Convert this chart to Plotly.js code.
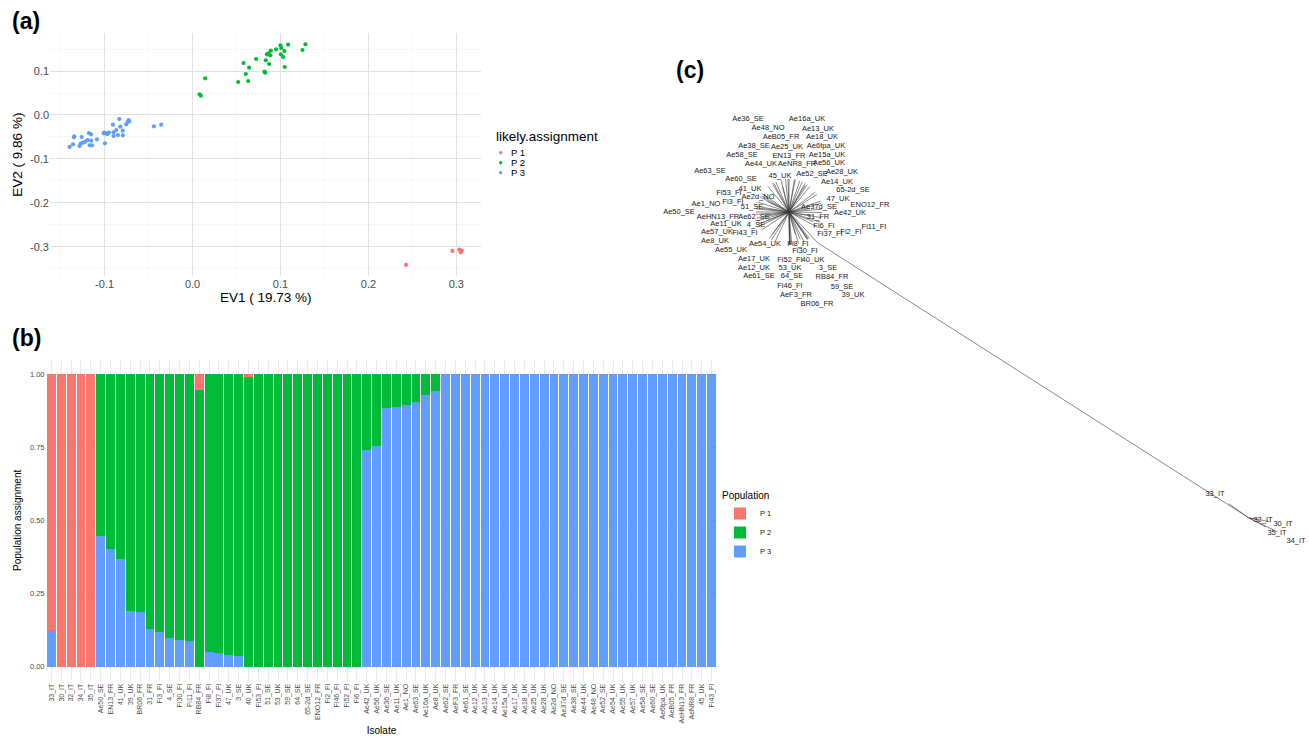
<!DOCTYPE html>
<html>
<head>
<meta charset="utf-8">
<script src="https://cdn.plot.ly/plotly-3.0.1.min.js"></script>
<style>html,body{margin:0;padding:0;background:#fff}#chart{width:1309px;height:737px}</style>
</head>
<body>
<div id="chart"></div>
<script>
// ---------------- Panel (a): PCA scores ----------------
const p1EV1 = [0.2428, 0.2955, 0.3034, 0.3061, 0.3050];
const p1EV2 = [-0.3409, -0.3091, -0.3061, -0.3083, -0.3121];
const p2EV1 = [0.0080, 0.0095, 0.0144, 0.0519, 0.0580, 0.0606, 0.0633, 0.0644, 0.0723, 0.0818, 0.0826, 0.0833, 0.0845, 0.0864, 0.0871, 0.0883, 0.0890, 0.0951, 0.1000, 0.1004, 0.1008, 0.1030, 0.1045, 0.1049, 0.1087, 0.1250, 0.1284];
const p2EV2 = [0.0470, 0.0439, 0.0833, 0.0750, 0.1182, 0.0932, 0.0773, 0.1076, 0.1273, 0.0985, 0.0962, 0.1242, 0.1379, 0.1402, 0.1159, 0.1356, 0.1462, 0.1492, 0.1583, 0.1379, 0.1523, 0.1318, 0.1455, 0.1091, 0.1598, 0.1477, 0.1606];
const p3EV1 = [-0.1398, -0.1360, -0.1348, -0.1345, -0.1284, -0.1273, -0.1261, -0.1246, -0.1220, -0.1193, -0.1178, -0.1170, -0.1155, -0.1152, -0.1144, -0.1087, -0.1011, -0.1004, -0.0996, -0.0981, -0.0966, -0.0951, -0.0905, -0.0898, -0.0898, -0.0867, -0.0848, -0.0833, -0.0822, -0.0795, -0.0792, -0.0754, -0.0739, -0.0727, -0.0720, -0.0439, -0.0356];
const p3EV2 = [-0.0727, -0.0667, -0.0508, -0.0485, -0.0705, -0.0652, -0.0500, -0.0629, -0.0606, -0.0568, -0.0409, -0.0689, -0.0439, -0.0583, -0.0689, -0.0553, -0.0417, -0.0402, -0.0644, -0.0424, -0.0432, -0.0402, -0.0220, -0.0394, -0.0477, -0.0341, -0.0455, -0.0091, -0.0265, -0.0356, -0.0462, -0.0212, -0.0159, -0.0114, -0.0144, -0.0258, -0.0220];
const popNames = ['P 1', 'P 2', 'P 3'];
const popColors = ['#F8766D', '#00BA38', '#619CFF'];
const aXTicks = [-0.1, 0.0, 0.1, 0.2, 0.3];
const aXTickText = ['-0.1', '0.0', '0.1', '0.2', '0.3'];
const aYTicks = [-0.3, -0.2, -0.1, 0.0, 0.1];
const aYTickText = ['-0.3', '-0.2', '-0.1', '0.0', '0.1'];

// ---------------- Panel (b): population assignment ----------------
const isolates = ['33_IT','30_IT','32_IT','34_IT','35_IT','Ae50_SE','EN13_FR','41_UK','39_UK','BR06_FR','31_FR','Fi3_FI','4_SE','Fi30_FI','Fi11_FI','RB84_FR','Fi8_FI','Fi37_FI','47_UK','3_SE','40_UK','Fi53_FI','51_SE','53_UK','59_SE','64_SE','65-2d_SE','ENO12_FR','Fi2_FI','Fi46_FI','Fi52_FI','Fi6_FI','Ae42_UK','Ae56_UK','Ae36_SE','Ae11_UK','Ae1_NO','Ae63_SE','Ae16a_UK','Ae8_UK','Ae62_SE','AeF3_FR','Ae61_SE','Ae12_UK','Ae13_UK','Ae14_UK','Ae15a_UK','Ae17_UK','Ae18_UK','Ae25_UK','Ae28_UK','Ae2d_NO','Ae37d_SE','Ae38_SE','Ae44_UK','Ae48_NO','Ae52_SE','Ae54_UK','Ae55_UK','Ae57_UK','Ae58_SE','Ae60_SE','Ae6tpa_UK','AeB05_FR','AeHN13_FR','AeNR8_FR','45_UK','Fi43_FI'];
const assignP1 = [0.878,1,1,1,1, 0,0,0,0,0,0,0,0,0,0, 0.055,0,0,0,0, 0.011,0,0,0,0,0,0,0,0,0,0,0, 0,0,0,0,0,0,0,0, 0,0,0,0,0,0,0,0,0,0,0,0,0,0,0,0,0,0,0,0,0,0,0,0,0,0,0,0];
const assignP2 = [0,0,0,0,0, 0.554,0.597,0.632,0.809,0.813,0.872,0.882,0.901,0.909,0.911, 0.945,0.950,0.952,0.959,0.965, 0.989,1,1,1,1,1,1,1,1,1,1,1, 0.260,0.246,0.117,0.112,0.106,0.097,0.070,0.058, 0,0,0,0,0,0,0,0,0,0,0,0,0,0,0,0,0,0,0,0,0,0,0,0,0,0,0,0];
const assignP3 = [0.122,0,0,0,0, 0.446,0.403,0.368,0.191,0.187,0.128,0.118,0.099,0.091,0.089, 0,0.050,0.048,0.041,0.035, 0,0,0,0,0,0,0,0,0,0,0,0, 0.740,0.754,0.883,0.888,0.894,0.903,0.930,0.942, 1,1,1,1,1,1,1,1,1,1,1,1,1,1,1,1,1,1,1,1,1,1,1,1,1,1,1,1];
const bYTicks = [0, 0.25, 0.5, 0.75, 1];
const bYTickText = ['0.00', '0.25', '0.50', '0.75', '1.00'];

// ---------------- Panel (c): unrooted tree (layout units) ----------------
const treeTips = ['Ae36_SE','Ae16a_UK','Ae48_NO','Ae13_UK','AeB05_FR','Ae18_UK','Ae38_SE','Ae25_UK','Ae6tpa_UK','Ae58_SE','EN13_FR','Ae15a_UK','Ae44_UK','AeNR8_FR','Ae56_UK','Ae63_SE','Ae60_SE','45_UK','Ae52_SE','Ae28_UK','Ae14_UK','41_UK','Fi53_FI','Ae2d_NO','65-2d_SE','47_UK','Ae1_NO','Fi3_FI','51_SE','Ae50_SE','Ae37d_SE','ENO12_FR','Ae42_UK','AeHN13_FR','Ae62_SE','31_FR','Ae11_UK','4_SE','Fi6_FI','Fi11_FI','Fi37_FI','Fi2_FI','Ae57_UK','Fi43_FI','Ae8_UK','Ae54_UK','Fi8_FI','Ae55_UK','Fi30_FI','Ae17_UK','Fi52_FI','40_UK','Ae12_UK','53_UK','3_SE','Ae61_SE','64_SE','RB84_FR','Fi46_FI','59_SE','AeF3_FR','39_UK','BR06_FR','33_IT','32_IT','30_IT','35_IT','34_IT'];
const tipX = [748,807,768,818,781,822,754,787,826,742,789,827,761,797,829,710,741,780,812,842,837,750,729,758,853,838,706,733,752,679,819,870,850,718,754,818,726,756,824,874,830,851,717,745,715,765,798,731,805,754,790,813,754,790,828,759,792,832,790,842,796,853,817,1215,1263,1283,1277,1296];
const tipY = [119,119,128,129,137,137,146,147,146,155,156,155,164,164,163,171,179,176,174,172,182,189,193,197,190,199,204,202,207,212,207,205,213,217,217,217,224,225,226,227,234,232,232,233,241,244,244,250,251,259,260,260,268,268,268,276,276,277,286,287,295,295,304,494,520,524,533,541];
const nodeNames = ['root', 'itStem', 'itNode'];
const nodeX = [789, 818, 1249];
const nodeY = [212, 243, 518];

const font = 'Liberation Sans, Arial, Helvetica, sans-serif';
const W = 1309, H = 737;
const px = v => v / W;
const py = v => 1 - v / H;

const traces = [];
// (a) scatter points
[[p1EV1, p1EV2], [p2EV1, p2EV2], [p3EV1, p3EV2]].forEach((xy, i) => {
  traces.push({
    type: 'scatter', mode: 'markers', x: xy[0], y: xy[1],
    xaxis: 'x', yaxis: 'y', name: popNames[i], showlegend: false,
    marker: {color: popColors[i], size: 4.2}
  });
});
// (b) stacked bars (bottom P3, then P2, top P1)
[[assignP3, 2], [assignP2, 1], [assignP1, 0]].forEach(([vals, i]) => {
  traces.push({
    type: 'bar', x: isolates, y: vals, xaxis: 'x2', yaxis: 'y2',
    name: popNames[i], marker: {color: popColors[i], line: {width: 0}},
    showlegend: true
  });
});
// (c) tree edges
const ex = [], ey = [];
const r = 0, st = 1, itn = 2;
ex.push(nodeX[r], nodeX[st], nodeX[itn], null);
ey.push(nodeY[r], nodeY[st], nodeY[itn], null);
treeTips.forEach((n, i) => {
  const isIT = n.endsWith('_IT');
  const p = isIT ? itn : r;
  const dx = tipX[i] - nodeX[p], dy = tipY[i] - nodeY[p];
  const d = Math.hypot(dx, dy);
  const f = isIT ? 0.6 : Math.min(0.7, 33 / d);
  ex.push(nodeX[p], nodeX[p] + dx * f, null);
  ey.push(nodeY[p], nodeY[p] + dy * f, null);
});
traces.push({type: 'scatter', mode: 'lines', x: ex, y: ey, xaxis: 'x3', yaxis: 'y3',
  line: {color: '#3a3a3a', width: 0.6}, showlegend: false, hoverinfo: 'skip'});
traces.push({type: 'scatter', mode: 'text', x: tipX, y: tipY, text: treeTips, xaxis: 'x3', yaxis: 'y3',
  textposition: 'middle center', textfont: {family: font, size: 7.5, color: '#222'}, showlegend: false});

const gridMajor = '#e2e2e2', gridMinor = '#f1f1f1', tickCol = '#4d4d4d';
const layout = {
  width: W, height: H, margin: {l: 0, r: 0, t: 0, b: 0},
  paper_bgcolor: '#fff', plot_bgcolor: 'rgba(0,0,0,0)',
  font: {family: font, color: '#000'},
  barmode: 'stack', bargap: 0.1,
  showlegend: true,
  xaxis: {
    domain: [px(50), px(481.3)], range: [-0.1621, 0.3284], anchor: 'y',
    tickmode: 'array', tickvals: aXTicks, ticktext: aXTickText,
    tickfont: {size: 11, color: tickCol, family: font}, ticks: '', zeroline: false,
    showgrid: true, gridcolor: gridMajor, gridwidth: 1, showline: false, automargin: false,
    minor: {tickmode: 'array', tickvals: [-0.15, -0.05, 0.05, 0.15, 0.25], showgrid: true, gridcolor: gridMinor, gridwidth: 0.6},
    title: {text: 'EV1 ( 19.73 %)', font: {size: 13.5, family: font, color: '#000'}, standoff: 3}
  },
  yaxis: {
    domain: [py(276), py(33.3)], range: [-0.366, 0.1857], anchor: 'x',
    tickmode: 'array', tickvals: aYTicks, ticktext: aYTickText,
    tickfont: {size: 11, color: tickCol, family: font}, ticks: '', zeroline: false,
    showgrid: true, gridcolor: gridMajor, gridwidth: 1, showline: false, automargin: false,
    minor: {tickmode: 'array', tickvals: [0.15, 0.05, -0.05, -0.15, -0.25, -0.35], showgrid: true, gridcolor: gridMinor, gridwidth: 0.6},
    title: {text: 'EV2 ( 9.86 %)', font: {size: 13.5, family: font, color: '#000'}, standoff: 4}
  },
  xaxis2: {
    domain: [px(45.5), px(717.5)], range: [-0.6, 67.6], anchor: 'y2', type: 'category',
    tickangle: -90, tickfont: {size: 7, color: tickCol, family: font}, ticks: '',
    showgrid: true, gridcolor: '#ebebeb', gridwidth: 1, zeroline: false, automargin: false,
    title: {text: 'Isolate', font: {size: 10, family: font, color: '#000'}, standoff: 4}
  },
  yaxis2: {
    domain: [py(681.3), py(359.4)], range: [-0.05, 1.05], anchor: 'x2',
    tickmode: 'array', tickvals: bYTicks, ticktext: bYTickText,
    tickfont: {size: 7.5, color: tickCol, family: font}, ticks: '',
    showgrid: true, gridcolor: '#ebebeb', zeroline: false, automargin: false,
    title: {text: 'Population assignment', font: {size: 10, family: font, color: '#000'}, standoff: 6}
  },
  xaxis3: {domain: [0, 1], range: [0, W], anchor: 'y3', visible: false, fixedrange: true},
  yaxis3: {domain: [0, 1], range: [H, 0], anchor: 'x3', visible: false, fixedrange: true},
  legend: {
    x: px(720), y: py(486), xanchor: 'left', yanchor: 'top', traceorder: 'reversed',
    bgcolor: 'rgba(0,0,0,0)', font: {size: 7.5, family: font, color: '#222'},
    title: {text: 'Population', font: {size: 10, family: font, color: '#000'}},
    itemwidth: 30, tracegroupgap: 0
  },
  shapes: [],
  annotations: []
};

// Panel labels
[['(a)', 26, 21], ['(b)', 26, 338], ['(c)', 690, 70]].forEach(([t, x, y]) => {
  layout.annotations.push({text: '<b>' + t + '</b>', xref: 'paper', yref: 'paper', x: px(x), y: py(y),
    xanchor: 'center', yanchor: 'middle', showarrow: false, font: {size: 23, family: font, color: '#000'}});
});
// Legend for panel (a) (ggplot style, compact)
layout.annotations.push({text: 'likely.assignment', xref: 'paper', yref: 'paper', x: px(494), y: py(136),
  xanchor: 'left', yanchor: 'middle', showarrow: false, font: {size: 13.5, family: font, color: '#000'}});
popNames.forEach((n, i) => {
  const cy = 152.7 + 10 * i;
  layout.shapes.push({type: 'circle', xref: 'paper', yref: 'paper', x0: px(499), x1: px(502.4), y0: py(cy + 1.7), y1: py(cy - 1.7),
    fillcolor: popColors[i], line: {width: 0}});
  layout.annotations.push({text: n, xref: 'paper', yref: 'paper', x: px(509), y: py(cy),
    xanchor: 'left', yanchor: 'middle', showarrow: false, font: {size: 9.5, family: font, color: '#000'}});
});

Plotly.newPlot('chart', traces, layout, {displayModeBar: false, staticPlot: true});
</script>
</body>
</html>
